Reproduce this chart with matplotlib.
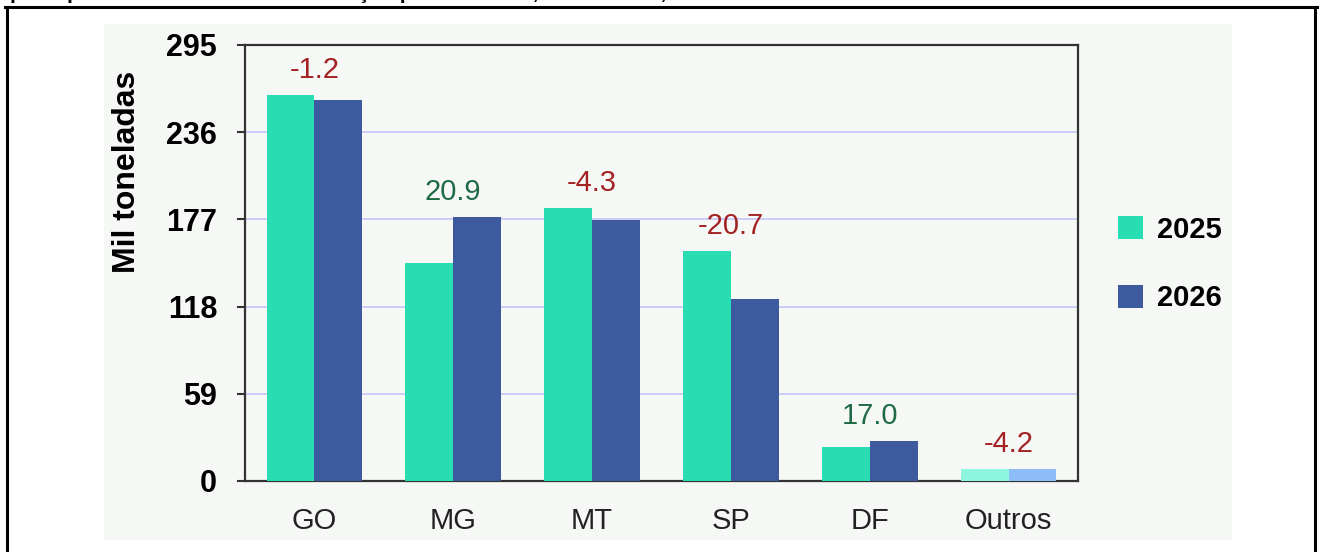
import matplotlib.pyplot as plt
from matplotlib.patches import Rectangle, Patch
from matplotlib.lines import Line2D
import numpy as np

plt.rcParams['font.family'] = ['Liberation Sans', 'DejaVu Sans']

# Volumes (mil toneladas) por estado
estados = ['GO', 'MG', 'MT', 'SP', 'DF', 'Outros']
vol_2025 = [261.2, 147.5, 184.7, 155.6, 23.0, 8.1]
vol_2026 = [258.1, 178.3, 176.8, 123.4, 26.9, 7.8]
variacao = [-1.2, 20.9, -4.3, -20.7, 17.0, -4.2]
yticks = [0, 59, 118, 177, 236, 295]

cor_2025 = ['#28DDB1'] * 5 + ['#8EF5DF']
cor_2026 = ['#3D5A9E'] * 5 + ['#8DBDF8']

fig = plt.figure(figsize=(13.19, 5.52), dpi=100)
fig.patch.set_facecolor('white')

# painel de fundo
fig.patches.append(Rectangle((104 / 1319, 12 / 552), 1128 / 1319, 516 / 552,
                             transform=fig.transFigure, facecolor='#F6F8F6',
                             edgecolor='none', zorder=-5))

# moldura da tabela
for xs, ys in [([7 / 1319, 7 / 1319], [0, 1 - 7 / 552]),
               ([1315 / 1319, 1315 / 1319], [0, 1 - 7 / 552]),
               ([5 / 1319, 1317 / 1319], [1 - 7 / 552, 1 - 7 / 552])]:
    fig.add_artist(Line2D(xs, ys, transform=fig.transFigure, color='black', lw=2.2))

fig.text(10 / 1319, 1 + 1 / 552,
         'principais Estados da comercialização pelas Ceasas, 2025 e 2026, em mil toneladas',
         fontsize=15, fontweight='bold', va='baseline', ha='left')

ax = fig.add_axes([245 / 1319, 71 / 552, 833 / 1319, 436 / 552])
ax.set_zorder(2)
ax.set_facecolor('#F6F8F6')

x = np.arange(len(estados))
w = 0.345
ax.bar(x - w / 2, vol_2025, width=w, color=cor_2025, zorder=3)
ax.bar(x + w / 2, vol_2026, width=w, color=cor_2026, zorder=3)

for xi, a, b, v in zip(x, vol_2025, vol_2026, variacao):
    cor = '#1F6B46' if v > 0 else '#A32222'
    ax.annotate(f'{v:.1f}', (xi, max(a, b)), xytext=(0, 18), textcoords='offset points',
                ha='center', va='center', fontsize=21, color=cor, zorder=4)

ax.set_xlim(-0.5, len(estados) - 0.5)
ax.set_ylim(0, 295)
ax.set_yticks(yticks)
ax.set_yticklabels([str(t) for t in yticks], fontsize=22, fontweight='bold')
ax.set_xticks(x)
ax.set_xticklabels(estados, fontsize=21, color='#222222')
ax.tick_params(axis='x', length=0, pad=19)
ax.tick_params(axis='y', length=6, width=1.5, color='#333333', pad=14)
ax.grid(axis='y', color='#C9C9FA', lw=1.3, zorder=1)
for s in ax.spines.values():
    s.set_color('#333333')
    s.set_linewidth(1.6)

ax.set_ylabel('Mil toneladas', fontsize=23, fontweight='bold', va='center')
ax.yaxis.set_label_coords(-0.1417, 0.709)

handles = [Patch(facecolor='#28DDB1', label='2025'), Patch(facecolor='#3D5A9E', label='2026')]
leg = fig.legend(handles=handles, loc='center left', bbox_to_anchor=(1118 / 1319, 1 - 264 / 552),
                 frameon=False, prop={'size': 21, 'weight': 'bold'}, handlelength=0.85,
                 handleheight=0.85, handletextpad=0.5, labelspacing=1.4,
                 borderpad=0, borderaxespad=0)

fig.savefig('out.png', dpi=100)
